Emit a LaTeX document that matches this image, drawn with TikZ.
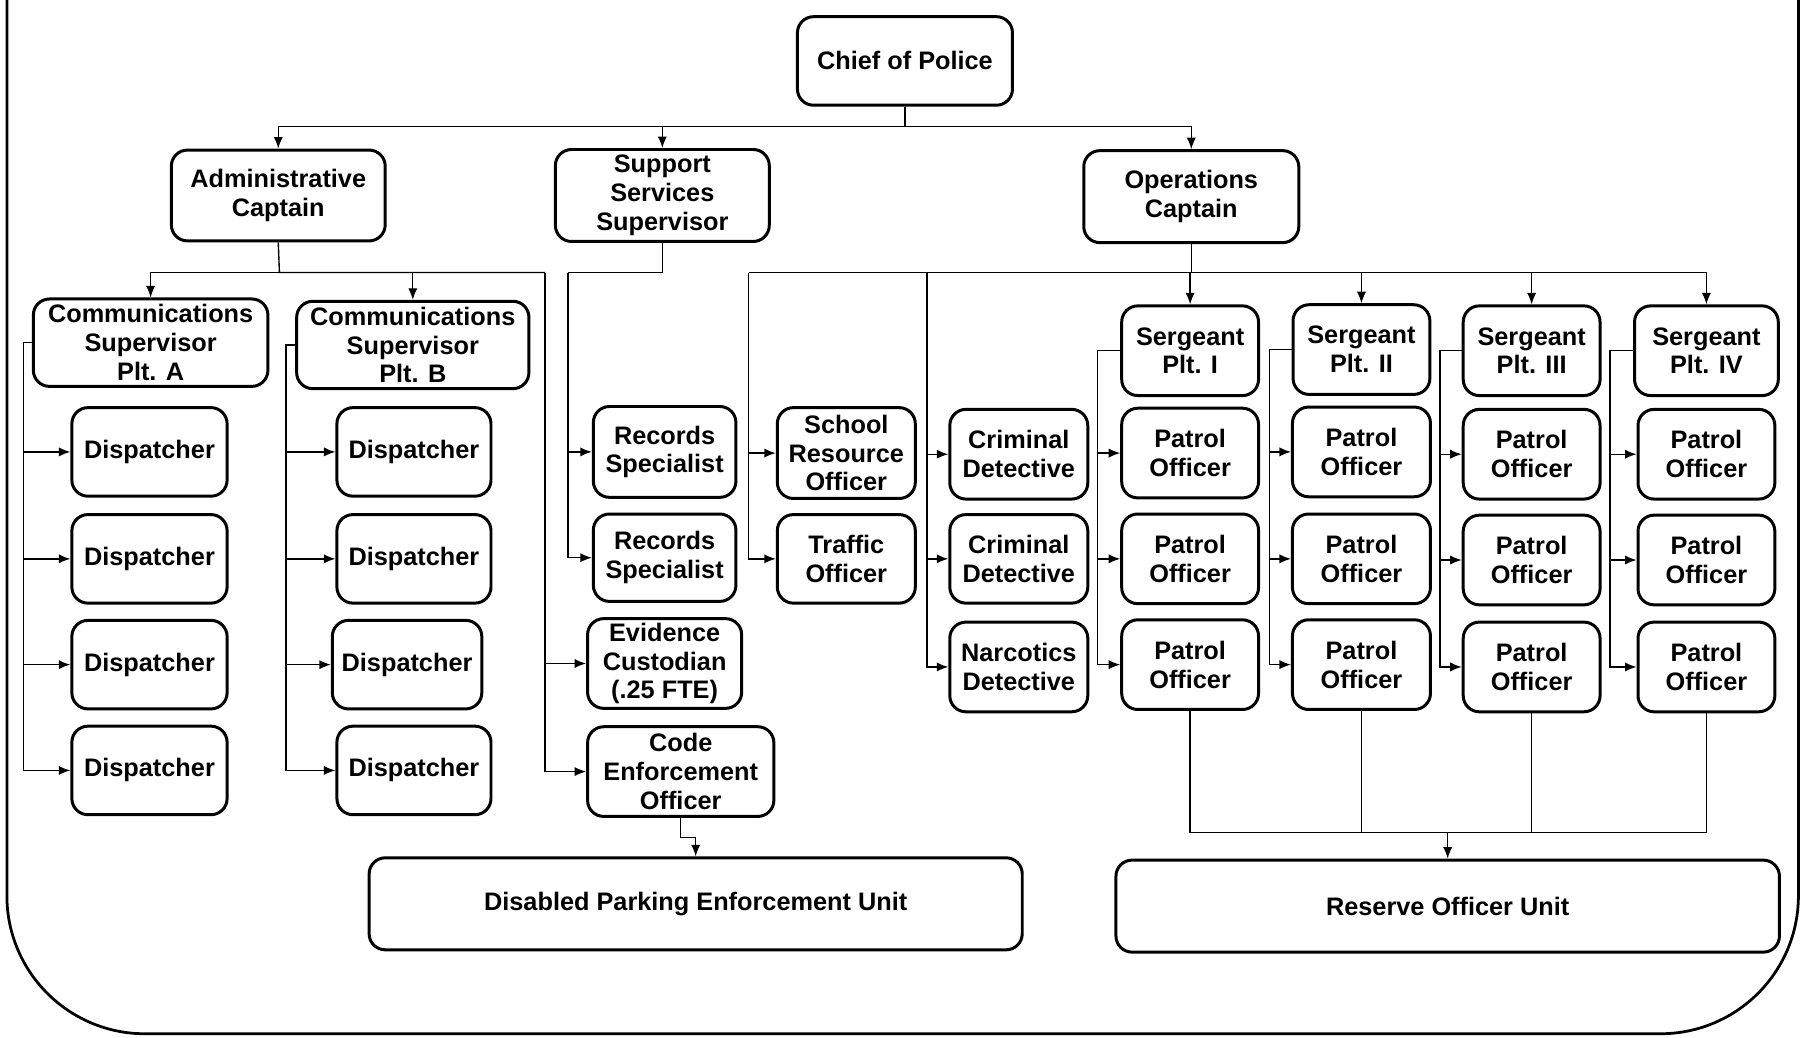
\documentclass[tikz,border=0pt]{standalone}
\usepackage{fontspec}
\setmainfont{Liberation Sans}
\usetikzlibrary{arrows.meta}
\begin{document}
\begin{tikzpicture}[x=0.5pt, y=-0.5pt,
  box/.style={draw, line width=1.3pt, rounded corners=7pt, align=center,
    inner sep=0pt, font=\bfseries\fontsize{11}{12.5}\selectfont},
  sz/.style 2 args={minimum width=#1*0.5pt, minimum height=#2*0.5pt},
  link/.style={line width=0.6pt},
  arr/.style={link, -{Latex[length=5pt,width=4pt]}}]
\useasboundingbox (0,0) rectangle (1568,902);

% outer frame, open at the top
\draw[line width=1.2pt, rounded corners=60pt] (6,0) -- (6,899) -- (1564,899) -- (1564,0);

% top levels
\node[box, sz={187}{77}] (chief) at (787,53) {Chief of Police};
\node[box, sz={186}{79}] (admin) at (242,170) {Administrative\\Captain};
\node[box, sz={186}{80}] (support) at (576,170) {Support\\Services\\Supervisor};
\node[box, sz={187}{80}] (ops) at (1036,171) {Operations\\Captain};

% administrative branch
\node[box, sz={204}{76}] (commA) at (131,298) {Communications\\Supervisor\\Plt. A};
\node[box, sz={202}{76}] (commB) at (359,300) {Communications\\Supervisor\\Plt. B};
\node[box, sz={135}{77}] (dA1) at (130,393) {Dispatcher};
\node[box, sz={135}{77}] (dA2) at (130,486) {Dispatcher};
\node[box, sz={135}{77}] (dA3) at (130,578) {Dispatcher};
\node[box, sz={135}{77}] (dA4) at (130,670) {Dispatcher};
\node[box, sz={134}{77}] (dB1) at (360,393) {Dispatcher};
\node[box, sz={134}{77}] (dB2) at (360,486) {Dispatcher};
\node[box, sz={130}{77}] (dB3) at (354,578) {Dispatcher};
\node[box, sz={134}{77}] (dB4) at (360,670) {Dispatcher};

% support branch
\node[box, sz={124}{79}] (rec1) at (578,393) {Records\\Specialist};
\node[box, sz={124}{76}] (rec2) at (578,485) {Records\\Specialist};
\node[box, sz={134}{78}] (evid) at (578,577) {Evidence\\Custodian\\(.25 FTE)};
\node[box, sz={162}{78}] (code) at (592,671) {Code\\Enforcement\\Officer};
\node[box, sz={568}{80}] (disabled) at (605,786) {Disabled Parking Enforcement Unit};

% operations branch
\node[box, sz={120}{79}] (school) at (736,394) {School\\Resource\\Officer};
\node[box, sz={120}{77}] (traffic) at (736,486) {Traffic\\Officer};
\node[box, sz={120}{78}] (crim1) at (886,395) {Criminal\\Detective};
\node[box, sz={120}{77}] (crim2) at (886,486) {Criminal\\Detective};
\node[box, sz={120}{78}] (narc) at (886,580) {Narcotics\\Detective};

\node[box, sz={119}{78}] (sgt1) at (1035,305) {Sergeant\\Plt. I};
\node[box, sz={119}{78}] (sgt2) at (1184,304) {Sergeant\\Plt. II};
\node[box, sz={119}{78}] (sgt3) at (1332,305) {Sergeant\\Plt. III};
\node[box, sz={125}{78}] (sgt4) at (1484,305) {Sergeant\\Plt. IV};

\node[box, sz={119}{78}] (p11) at (1035,394) {Patrol\\Officer};
\node[box, sz={119}{78}] (p12) at (1035,486) {Patrol\\Officer};
\node[box, sz={119}{78}] (p13) at (1035,578) {Patrol\\Officer};
\node[box, sz={120}{78}] (p21) at (1184,393) {Patrol\\Officer};
\node[box, sz={120}{78}] (p22) at (1184,486) {Patrol\\Officer};
\node[box, sz={120}{78}] (p23) at (1184,578) {Patrol\\Officer};
\node[box, sz={119}{78}] (p31) at (1332,395) {Patrol\\Officer};
\node[box, sz={119}{78}] (p32) at (1332,487) {Patrol\\Officer};
\node[box, sz={119}{78}] (p33) at (1332,580) {Patrol\\Officer};
\node[box, sz={119}{78}] (p41) at (1484,395) {Patrol\\Officer};
\node[box, sz={119}{78}] (p42) at (1484,487) {Patrol\\Officer};
\node[box, sz={119}{78}] (p43) at (1484,580) {Patrol\\Officer};

\node[box, sz={577}{80}] (reserve) at (1259,788) {Reserve Officer Unit};

% chief to captains
\coordinate (j0) at (787,110);
\draw[link] (chief.south) -- (j0);
\draw[arr] (j0) -| (admin.north);
\draw[arr] (j0) -| (support.north);
\draw[arr] (j0) -| (ops.north);

% administrative captain
\coordinate (ja) at (243,237);
\coordinate (ra) at (474,237);
\draw[link] (admin.south) -- (ja) -- (ra);
\draw[arr] (ja) -| (commA.north);
\draw[arr] (ja) -| (commB.north);
\draw[arr] (ra) |- (evid.west);
\draw[arr] (ra) |- (code.west);

\foreach \d in {dA1,dA2,dA3,dA4}
  \draw[arr] (commA.west) -- ++(-7,0) |- (\d.west);
\foreach \d in {dB1,dB2,dB3,dB4}
  \draw[arr] (commB.west) -- ++(-8,0) |- (\d.west);

% support services
\coordinate (sj) at (494,237);
\draw[link] (support.south) |- (sj);
\draw[arr] (sj) |- (rec1.west);
\draw[arr] (sj) |- (rec2.west);
\draw[arr] (code.south) -- ++(0,17) -| (disabled.north);

% operations captain
\coordinate (oj) at (1036,237);
\coordinate (oL) at (651,237);
\coordinate (oM) at (806,237);
\draw[link] (ops.south) -- (oj) -- (oL);
\draw[link] (oj) -- (1484,237);
\draw[arr] (oj) -| (sgt1.north);
\draw[arr] (oj) -| (sgt2.north);
\draw[arr] (oj) -| (sgt3.north);
\draw[arr] (oj) -| (sgt4.north);
\draw[arr] (oL) |- (school.west);
\draw[arr] (oL) |- (traffic.west);
\draw[arr] (oM) |- (crim1.west);
\draw[arr] (oM) |- (crim2.west);
\draw[arr] (oM) |- (narc.west);

\foreach \p in {p11,p12,p13}
  \draw[arr] (sgt1.west) -- ++(-20,0) |- (\p.west);
\foreach \p in {p21,p22,p23}
  \draw[arr] (sgt2.west) -- ++(-19,0) |- (\p.west);
\foreach \p in {p31,p32,p33}
  \draw[arr] (sgt3.west) -- ++(-19,0) |- (\p.west);
\foreach \p in {p41,p42,p43}
  \draw[arr] (sgt4.west) -- ++(-20,0) |- (\p.west);

% platoons to the reserve unit
\coordinate (rj) at (1259,724);
\draw[link] (p13.south) |- (rj);
\draw[link] (p43.south) |- (rj);
\draw[link] (p23.south) -- (p23.south |- rj);
\draw[link] (p33.south) -- (p33.south |- rj);
\draw[arr] (rj) -- (reserve.north);
\end{tikzpicture}
\end{document}
